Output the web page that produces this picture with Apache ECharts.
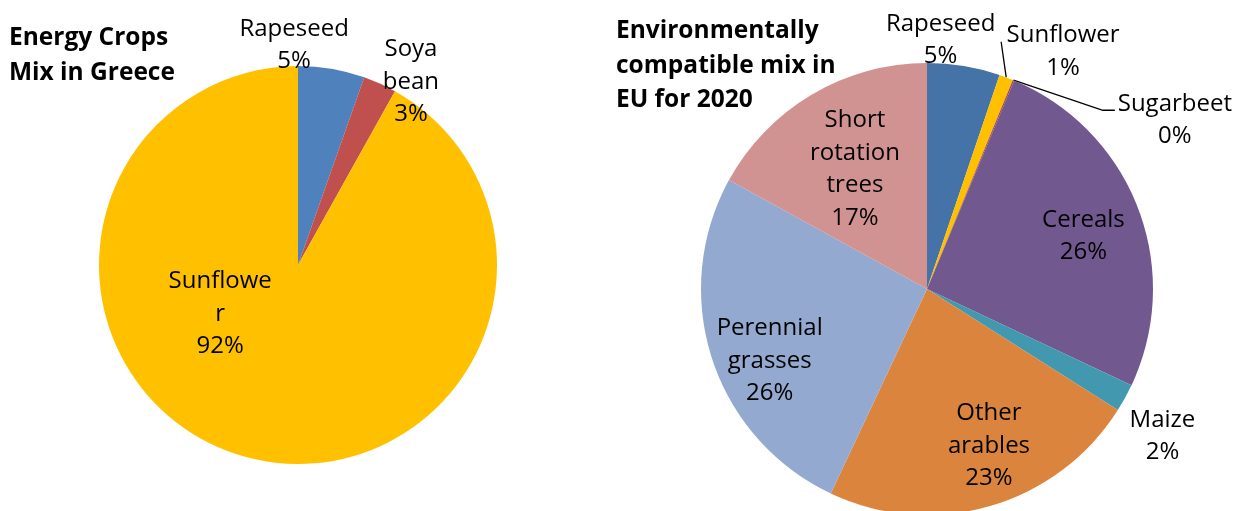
<!DOCTYPE html>
<html>
<head>
<meta charset="utf-8">
<script src="https://cdn.jsdelivr.net/npm/echarts@6/dist/echarts.min.js"></script>
<style>
  html, body { margin: 0; padding: 0; background: #ffffff; }
  #chart { width: 1244px; height: 511px; }
</style>
</head>
<body>
<div id="chart"></div>
<script>
// ---------- DATA ----------
const greeceTitle = 'Energy Crops\nMix in Greece';
const greeceCategories = ['Rapeseed', 'Soya bean', 'Sunflower'];
const greeceLabels = ['Rapeseed', 'Soya\nbean', 'Sunflowe\nr'];
const greeceValues = [5.4, 2.7, 91.9];

const euTitle = 'Environmentally\ncompatible mix in\nEU for 2020';
const euCategories = ['Rapeseed', 'Sunflower', 'Sugarbeet', 'Cereals', 'Maize',
  'Other arables', 'Perennial grasses', 'Short rotation trees'];
const euLabels = ['Rapeseed', 'Sunflower', 'Sugarbeet', 'Cereals', 'Maize',
  'Other\narables', 'Perennial\ngrasses', 'Short\nrotation\ntrees'];
const euValues = [5.2, 1.0, 0.1, 25.7, 2.0, 23.0, 26.0, 17.0];

// ---------- STYLE ----------
const FONT = 'Open Sans';
const LABEL_SIZE = 24;
const LINE_H = 32.5;
const TITLE_SIZE = 24.5;
const greeceColors = ['#4F81BD', '#C0504D', '#FFC000'];
const euColors = ['#4572A7', '#FFC000', '#AA4643', '#71588F', '#4198AF', '#DB843D', '#93A9CF', '#D19392'];
const greecePlace = ['outside', 'outside', 'inside'];
const euPlace = ['outside', 'leader', 'leader', 'inside', 'outside', 'inside', 'inside', 'inside'];
// small label nudges (px) relative to library placement
const greeceNudge = [[-42, 3], [20, 23], [-42, -89]];
const euNudge = [[-28, 4], [-14, -12.5], [90, 53], [6, 5], [11, 24], [17, 2], [-4, 22], [10, 19]];
// leader line end: [gap left of label block, rise above block centre, horizontal tail]
const euLeader = { 1: [4, 10, 0], 2: [2, 10, 12] };
const greeceLeader = {};
const LEADER_BLOCK_W = 116;

const pies = [
  { cats: greeceCategories, labels: greeceLabels, values: greeceValues, colors: greeceColors,
    place: greecePlace, nudge: greeceNudge, leader: greeceLeader, center: [298, 265], R: 199 },
  { cats: euCategories, labels: euLabels, values: euValues, colors: euColors,
    place: euPlace, nudge: euNudge, leader: euLeader, center: [927, 289], R: 226 }
];

function pctText(v) { return Math.round(v) + '%'; }

const baseText = {
  fontFamily: FONT, fontSize: LABEL_SIZE, color: '#000', lineHeight: LINE_H, align: 'center'
};

const series = [];
pies.forEach(function (p) {
  // visible pie
  series.push({
    type: 'pie', center: p.center, radius: p.R, startAngle: 90, clockwise: true,
    avoidLabelOverlap: false, silent: true, animation: false,
    itemStyle: { borderWidth: 0 },
    labelLine: { show: true, length: 14, length2: 6, lineStyle: { color: '#000', width: 1.3 } },
    label: { show: false },
    labelLayout: function (params) {
      const i = params.dataIndex;
      if (p.place[i] !== 'leader') return {};
      const n = p.nudge[i];
      const L = p.leader[i];
      const r = params.labelRect;
      const pts = params.labelLinePoints;
      const endX = r.x + n[0] - L[0];
      const endY = r.y + r.height / 2 + n[1] - L[1];
      return {
        dx: n[0], dy: n[1],
        labelLinePoints: [pts[0], [endX - L[2], endY], [endX, endY]]
      };
    },
    data: p.cats.map(function (c, i) {
      const isLeader = p.place[i] === 'leader';
      return {
        name: c, value: p.values[i], itemStyle: { color: p.colors[i] },
        label: isLeader ? {
          show: true, position: 'outside', distanceToLabelLine: 2,
          formatter: '{a|' + p.labels[i] + '}\n{a|' + pctText(p.values[i]) + '}',
          rich: { a: Object.assign({}, baseText, { width: LEADER_BLOCK_W }) }
        } : { show: false },
        labelLine: { show: isLeader }
      };
    })
  });
  // label rings (transparent) for inside / outside placement
  [['inside', [p.R * 0.4, p.R]], ['outside', [p.R, p.R * 1.24]]].forEach(function (ring) {
    series.push({
      type: 'pie', center: p.center, radius: ring[1], startAngle: 90, clockwise: true,
      avoidLabelOverlap: false, silent: true, animation: false,
      itemStyle: { color: 'rgba(0,0,0,0)', borderWidth: 0 },
      labelLine: { show: false },
      labelLayout: function (params) {
        const n = p.nudge[params.dataIndex];
        return { dx: n[0], dy: n[1] };
      },
      data: p.cats.map(function (c, i) {
        return {
          name: c, value: p.values[i],
          label: {
            show: p.place[i] === ring[0], position: 'inside',
            formatter: p.labels[i] + '\n' + pctText(p.values[i]),
            fontFamily: FONT, fontSize: LABEL_SIZE, color: '#000', lineHeight: LINE_H, align: 'center'
          }
        };
      })
    });
  });
});

const chart = echarts.init(document.getElementById('chart'), null, { renderer: 'canvas' });
chart.setOption({
  animation: false,
  backgroundColor: '#ffffff',
  title: [
    { text: greeceTitle, left: 4, top: 16,
      textStyle: { fontFamily: FONT, fontWeight: 'bold', fontSize: TITLE_SIZE, lineHeight: 35, color: '#000' } },
    { text: euTitle, left: 611, top: 9,
      textStyle: { fontFamily: FONT, fontWeight: 'bold', fontSize: TITLE_SIZE, lineHeight: 34.5, color: '#000' } }
  ],
  series: series
});
</script>
</body>
</html>
